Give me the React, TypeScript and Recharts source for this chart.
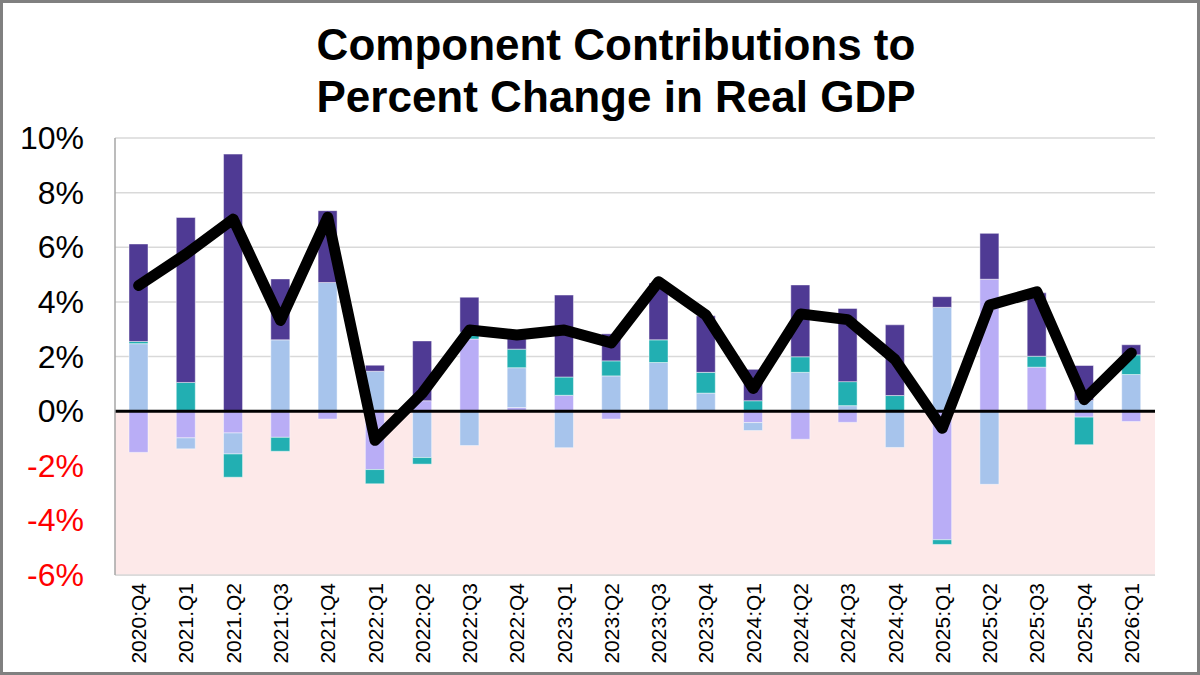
import React from 'react';
import {
    ComposedChart,
    Bar,
    Line,
    XAxis,
    YAxis,
    CartesianGrid,
    ReferenceArea,
    ReferenceLine
} from 'recharts';

const quarters = [
    '2020:Q4', '2021.Q1', '2021.Q2', '2021:Q3', '2021:Q4', '2022:Q1', '2022:Q2', '2022:Q3',
    '2022:Q4', '2023:Q1', '2023:Q2', '2023:Q3', '2023:Q4', '2024:Q1', '2024:Q2', '2024:Q3',
    '2024:Q4', '2025:Q1', '2025:Q2', '2025:Q3', '2025:Q4', '2026:Q1'
];

// contributions in percentage points
const netExports = [
    -1.51, -0.98, -0.8, -0.96, -0.29, -2.14, 0.38, 2.64, 0.13, 0.58, -0.29,
    0, 0, -0.42, -1.03, -0.41, 0, -4.71, 4.83, 1.61, -0.22, -0.38
];
const investment = [
    2.47, -0.4, -0.77, 2.61, 4.71, 1.46, -1.7, -1.26, 1.46, -1.34, 1.29,
    1.78, 0.66, -0.29, 1.42, 0.2, -1.33, 3.8, -2.68, 0, 0.39, 1.34
];
const government = [
    0.08, 1.05, -0.85, -0.51, 0, -0.52, -0.24, 0.25, 0.68, 0.67, 0.55,
    0.83, 0.76, 0.38, 0.57, 0.88, 0.57, -0.17, 0, 0.4, -1.01, 0.72
];
const consumption = [
    3.57, 6.04, 9.41, 2.23, 2.63, 0.22, 2.19, 1.28, 0.38, 3.0, 0.99,
    2.08, 2.07, 1.15, 2.63, 2.68, 2.59, 0.39, 1.68, 2.32, 1.28, 0.37
];
const realGdp = [
    4.6, 5.75, 7.03, 3.32, 7.1, -1.07, 0.66, 2.97, 2.79, 2.97, 2.5,
    4.74, 3.52, 0.83, 3.56, 3.35, 1.89, -0.63, 3.88, 4.37, 0.42, 2.13
];

const yTicks = [-6, -4, -2, 0, 2, 4, 6, 8, 10];

const data = quarters.map((q, i) => ({
    quarter: q,
    netExports: netExports[i],
    investment: investment[i],
    government: government[i],
    consumption: consumption[i],
    gdp: realGdp[i]
}));

const FONT = '"Liberation Sans", Arial, sans-serif';

const YTick = (props: any) => {
    const { x, y, payload } = props;
    const v = payload.value;
    return (
        <text x={x} y={y} textAnchor="end" dominantBaseline="central"
            fontSize={32} fontFamily={FONT} fill={v < 0 ? '#ff0000' : '#000000'}>
            {v}%
        </text>
    );
};

const XTick = (props: any) => {
    const { x, y, payload } = props;
    return (
        <g transform={`translate(${x},${y})`}>
            <text transform="rotate(-90)" textAnchor="end" dominantBaseline="central"
                fontSize={21} fontFamily={FONT} fill="#000000">
                {payload.value}
            </text>
        </g>
    );
};

const barStroke = { stroke: '#ffffff', strokeOpacity: 0.45, strokeWidth: 1 };

export default function App() {
    return (
        <div style={{ position: 'absolute', left: 0, top: 0, width: 1200, height: 675, background: '#fff', fontFamily: FONT }}>
            <ComposedChart
                width={1200}
                height={675}
                data={data}
                stackOffset="sign"
                margin={{ top: 138, right: 45, left: 15, bottom: 10 }}
            >
                <ReferenceArea y1={-6} y2={0} fill="#fde9e9" fillOpacity={1} stroke="none" />
                <CartesianGrid vertical={false} stroke="#d9d9d9" strokeWidth={1.5} />
                <XAxis
                    dataKey="quarter"
                    interval={0}
                    height={90}
                    tickLine={false}
                    tickMargin={2}
                    axisLine={{ stroke: '#d9d9d9', strokeWidth: 1.5 }}
                    tick={<XTick />}
                />
                <YAxis
                    width={100}
                    domain={[-6, 10]}
                    ticks={yTicks}
                    interval={0}
                    tickLine={false}
                    tickMargin={25}
                    axisLine={{ stroke: '#a6a6a6', strokeWidth: 1.5 }}
                    tick={<YTick />}
                />
                <Bar dataKey="netExports" name="Net exports" stackId="gdp" fill="#b9adf6" barSize={19} isAnimationActive={false} {...barStroke} />
                <Bar dataKey="investment" name="Investment" stackId="gdp" fill="#a7c4ec" barSize={19} isAnimationActive={false} {...barStroke} />
                <Bar dataKey="government" name="Government" stackId="gdp" fill="#22afb2" barSize={19} isAnimationActive={false} {...barStroke} />
                <Bar dataKey="consumption" name="Consumption" stackId="gdp" fill="#4f3a94" barSize={19} isAnimationActive={false} {...barStroke} />
                <ReferenceLine y={0} stroke="#000000" strokeWidth={3} />
                <Line
                    type="linear"
                    dataKey="gdp"
                    name="Real GDP"
                    stroke="#000000"
                    strokeWidth={11}
                    strokeLinecap="round"
                    strokeLinejoin="round"
                    dot={false}
                    activeDot={false}
                    isAnimationActive={false}
                />
            </ComposedChart>
            <div style={{
                position: 'absolute', left: 16, top: 19, width: 1200,
                textAlign: 'center', fontSize: 44, lineHeight: '52px', fontWeight: 700, color: '#000'
            }}>
                Component Contributions to<br />Percent Change in Real GDP
            </div>
            <div style={{
                position: 'absolute', left: 0, top: 0, width: 1200, height: 675,
                boxSizing: 'border-box', border: '3px solid #808080', pointerEvents: 'none'
            }} />
        </div>
    );
}
